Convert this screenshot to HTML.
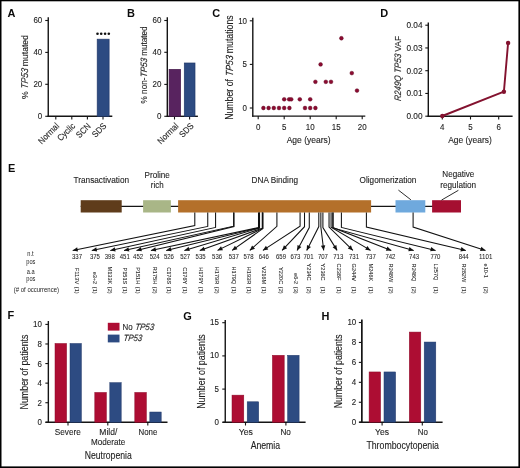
<!DOCTYPE html>
<html><head><meta charset="utf-8"><title>Figure</title>
<style>
html,body{margin:0;padding:0;background:#fff;}
body{width:520px;height:468px;overflow:hidden;}
svg{display:block;will-change:transform;font-family:"Liberation Sans",sans-serif;}
</style></head>
<body>
<svg width="520" height="468" viewBox="0 0 520 468">
<rect x="0" y="0" width="520" height="468" fill="#fff"/>
<text x="7.60" y="16.90" font-size="11.8" text-anchor="start" fill="#0c0c0c" font-weight="bold" textLength="7.93" lengthAdjust="spacingAndGlyphs">A</text>
<line x1="48.25" y1="17.30" x2="48.25" y2="117.00" stroke="#151515" stroke-width="1.4" />
<line x1="45.25" y1="20.50" x2="48.25" y2="20.50" stroke="#151515" stroke-width="1.1" />
<text x="42.30" y="23.05" font-size="9.0" text-anchor="end" fill="#1e1e1e" stroke="#1e1e1e" stroke-width="0.12" textLength="8.86" lengthAdjust="spacingAndGlyphs">60</text>
<line x1="45.25" y1="52.40" x2="48.25" y2="52.40" stroke="#151515" stroke-width="1.1" />
<text x="42.30" y="54.95" font-size="9.0" text-anchor="end" fill="#1e1e1e" stroke="#1e1e1e" stroke-width="0.12" textLength="8.86" lengthAdjust="spacingAndGlyphs">40</text>
<line x1="45.25" y1="84.30" x2="48.25" y2="84.30" stroke="#151515" stroke-width="1.1" />
<text x="42.30" y="86.85" font-size="9.0" text-anchor="end" fill="#1e1e1e" stroke="#1e1e1e" stroke-width="0.12" textLength="8.86" lengthAdjust="spacingAndGlyphs">20</text>
<line x1="45.25" y1="116.30" x2="48.25" y2="116.30" stroke="#151515" stroke-width="1.1" />
<text x="42.30" y="118.85" font-size="9.0" text-anchor="end" fill="#1e1e1e" stroke="#1e1e1e" stroke-width="0.12" textLength="4.43" lengthAdjust="spacingAndGlyphs">0</text>
<line x1="47.60" y1="116.30" x2="112.30" y2="116.30" stroke="#151515" stroke-width="1.4" />
<line x1="55.80" y1="116.30" x2="55.80" y2="119.50" stroke="#151515" stroke-width="1.1" />
<line x1="71.80" y1="116.30" x2="71.80" y2="119.50" stroke="#151515" stroke-width="1.1" />
<line x1="87.40" y1="116.30" x2="87.40" y2="119.50" stroke="#151515" stroke-width="1.1" />
<line x1="103.00" y1="116.30" x2="103.00" y2="119.50" stroke="#151515" stroke-width="1.1" />
<rect x="97.20" y="39.20" width="11.90" height="77.10" fill="#2d4b82" stroke="#22396a" stroke-width="0.7"/>
<circle cx="97.5" cy="33.8" r="1.3" fill="#111"/>
<circle cx="101.2" cy="33.8" r="1.3" fill="#111"/>
<circle cx="105.1" cy="33.8" r="1.3" fill="#111"/>
<circle cx="108.8" cy="33.8" r="1.3" fill="#111"/>
<text transform="translate(59.70,126.60) rotate(-45)" font-size="8.8" text-anchor="end" fill="#1e1e1e" stroke="#1e1e1e" stroke-width="0.12" textLength="25.52" lengthAdjust="spacingAndGlyphs">Normal</text>
<text transform="translate(75.70,126.60) rotate(-45)" font-size="8.8" text-anchor="end" fill="#1e1e1e" stroke="#1e1e1e" stroke-width="0.12" textLength="21.12" lengthAdjust="spacingAndGlyphs">Cyclic</text>
<text transform="translate(91.30,126.60) rotate(-45)" font-size="8.8" text-anchor="end" fill="#1e1e1e" stroke="#1e1e1e" stroke-width="0.12" textLength="16.72" lengthAdjust="spacingAndGlyphs">SCN</text>
<text transform="translate(106.90,126.60) rotate(-45)" font-size="8.8" text-anchor="end" fill="#1e1e1e" stroke="#1e1e1e" stroke-width="0.12" textLength="16.28" lengthAdjust="spacingAndGlyphs">SDS</text>
<text transform="translate(28.20,67.10) rotate(-90) translate(-32.00,0)" font-size="9.8" fill="#1e1e1e" stroke="#1e1e1e" stroke-width="0.12" textLength="7.64" lengthAdjust="spacingAndGlyphs">%</text>
<text transform="translate(28.20,67.10) rotate(-90) translate(-21.97,0) skewX(-7)" font-size="9.8" fill="#1e1e1e" font-style="italic" stroke="#1e1e1e" stroke-width="0.12" textLength="20.54" lengthAdjust="spacingAndGlyphs">TP53</text>
<text transform="translate(28.20,67.10) rotate(-90) translate(0.95,0)" font-size="9.8" fill="#1e1e1e" stroke="#1e1e1e" stroke-width="0.12" textLength="31.05" lengthAdjust="spacingAndGlyphs">mutated</text>
<text x="127.00" y="16.90" font-size="11.8" text-anchor="start" fill="#0c0c0c" font-weight="bold" textLength="7.93" lengthAdjust="spacingAndGlyphs">B</text>
<line x1="167.30" y1="17.30" x2="167.30" y2="117.00" stroke="#151515" stroke-width="1.4" />
<line x1="164.30" y1="20.50" x2="167.30" y2="20.50" stroke="#151515" stroke-width="1.1" />
<text x="161.40" y="23.05" font-size="9.0" text-anchor="end" fill="#1e1e1e" stroke="#1e1e1e" stroke-width="0.12" textLength="8.86" lengthAdjust="spacingAndGlyphs">60</text>
<line x1="164.30" y1="52.30" x2="167.30" y2="52.30" stroke="#151515" stroke-width="1.1" />
<text x="161.40" y="54.85" font-size="9.0" text-anchor="end" fill="#1e1e1e" stroke="#1e1e1e" stroke-width="0.12" textLength="8.86" lengthAdjust="spacingAndGlyphs">40</text>
<line x1="164.30" y1="84.40" x2="167.30" y2="84.40" stroke="#151515" stroke-width="1.1" />
<text x="161.40" y="86.95" font-size="9.0" text-anchor="end" fill="#1e1e1e" stroke="#1e1e1e" stroke-width="0.12" textLength="8.86" lengthAdjust="spacingAndGlyphs">20</text>
<line x1="164.30" y1="116.30" x2="167.30" y2="116.30" stroke="#151515" stroke-width="1.1" />
<text x="161.40" y="118.85" font-size="9.0" text-anchor="end" fill="#1e1e1e" stroke="#1e1e1e" stroke-width="0.12" textLength="4.43" lengthAdjust="spacingAndGlyphs">0</text>
<line x1="166.70" y1="116.30" x2="197.90" y2="116.30" stroke="#151515" stroke-width="1.4" />
<line x1="174.50" y1="116.30" x2="174.50" y2="119.50" stroke="#151515" stroke-width="1.1" />
<line x1="189.60" y1="116.30" x2="189.60" y2="119.50" stroke="#151515" stroke-width="1.1" />
<rect x="169.10" y="69.40" width="11.50" height="46.90" fill="#58235f" stroke="#43184a" stroke-width="0.7"/>
<rect x="184.30" y="63.00" width="10.70" height="53.30" fill="#2d4b82" stroke="#22396a" stroke-width="0.7"/>
<text transform="translate(179.10,126.60) rotate(-45)" font-size="8.8" text-anchor="end" fill="#1e1e1e" stroke="#1e1e1e" stroke-width="0.12" textLength="25.52" lengthAdjust="spacingAndGlyphs">Normal</text>
<text transform="translate(194.20,126.60) rotate(-45)" font-size="8.8" text-anchor="end" fill="#1e1e1e" stroke="#1e1e1e" stroke-width="0.12" textLength="16.28" lengthAdjust="spacingAndGlyphs">SDS</text>
<text transform="translate(146.50,64.90) rotate(-90) translate(-38.50,0)" font-size="9.2" fill="#1e1e1e" stroke="#1e1e1e" stroke-width="0.12" textLength="25.82" lengthAdjust="spacingAndGlyphs">%&#160;non-</text>
<text transform="translate(146.50,64.90) rotate(-90) translate(-12.68,0) skewX(-7)" font-size="9.2" fill="#1e1e1e" font-style="italic" stroke="#1e1e1e" stroke-width="0.12" textLength="19.48" lengthAdjust="spacingAndGlyphs">TP53</text>
<text transform="translate(146.50,64.90) rotate(-90) translate(9.06,0)" font-size="9.2" fill="#1e1e1e" stroke="#1e1e1e" stroke-width="0.12" textLength="29.44" lengthAdjust="spacingAndGlyphs">mutated</text>
<text x="212.30" y="17.10" font-size="11.8" text-anchor="start" fill="#0c0c0c" font-weight="bold" textLength="7.93" lengthAdjust="spacingAndGlyphs">C</text>
<line x1="252.80" y1="17.70" x2="252.80" y2="116.80" stroke="#151515" stroke-width="1.4" />
<line x1="249.80" y1="20.80" x2="252.80" y2="20.80" stroke="#151515" stroke-width="1.1" />
<text x="247.00" y="23.80" font-size="9.0" text-anchor="end" fill="#1e1e1e" stroke="#1e1e1e" stroke-width="0.12" textLength="8.86" lengthAdjust="spacingAndGlyphs">10</text>
<line x1="249.80" y1="64.40" x2="252.80" y2="64.40" stroke="#151515" stroke-width="1.1" />
<text x="247.00" y="67.40" font-size="9.0" text-anchor="end" fill="#1e1e1e" stroke="#1e1e1e" stroke-width="0.12" textLength="4.43" lengthAdjust="spacingAndGlyphs">5</text>
<line x1="249.80" y1="108.00" x2="252.80" y2="108.00" stroke="#151515" stroke-width="1.1" />
<text x="247.00" y="111.00" font-size="9.0" text-anchor="end" fill="#1e1e1e" stroke="#1e1e1e" stroke-width="0.12" textLength="4.43" lengthAdjust="spacingAndGlyphs">0</text>
<line x1="252.10" y1="116.10" x2="365.30" y2="116.10" stroke="#151515" stroke-width="1.4" />
<line x1="258.20" y1="116.10" x2="258.20" y2="119.30" stroke="#151515" stroke-width="1.1" />
<line x1="284.20" y1="116.10" x2="284.20" y2="119.30" stroke="#151515" stroke-width="1.1" />
<line x1="310.20" y1="116.10" x2="310.20" y2="119.30" stroke="#151515" stroke-width="1.1" />
<line x1="336.20" y1="116.10" x2="336.20" y2="119.30" stroke="#151515" stroke-width="1.1" />
<line x1="362.20" y1="116.10" x2="362.20" y2="119.30" stroke="#151515" stroke-width="1.1" />
<text x="258.20" y="129.80" font-size="9.0" text-anchor="middle" fill="#1e1e1e" stroke="#1e1e1e" stroke-width="0.12" textLength="4.43" lengthAdjust="spacingAndGlyphs">0</text>
<text x="284.20" y="129.80" font-size="9.0" text-anchor="middle" fill="#1e1e1e" stroke="#1e1e1e" stroke-width="0.12" textLength="4.43" lengthAdjust="spacingAndGlyphs">5</text>
<text x="310.20" y="129.80" font-size="9.0" text-anchor="middle" fill="#1e1e1e" stroke="#1e1e1e" stroke-width="0.12" textLength="8.86" lengthAdjust="spacingAndGlyphs">10</text>
<text x="336.20" y="129.80" font-size="9.0" text-anchor="middle" fill="#1e1e1e" stroke="#1e1e1e" stroke-width="0.12" textLength="8.86" lengthAdjust="spacingAndGlyphs">15</text>
<text x="362.20" y="129.80" font-size="9.0" text-anchor="middle" fill="#1e1e1e" stroke="#1e1e1e" stroke-width="0.12" textLength="8.86" lengthAdjust="spacingAndGlyphs">20</text>
<text x="308.70" y="143.10" font-size="9.8" text-anchor="middle" fill="#1e1e1e" stroke="#1e1e1e" stroke-width="0.12" textLength="44.00" lengthAdjust="spacingAndGlyphs">Age (years)</text>
<text transform="translate(233.00,67.60) rotate(-90) translate(-52.25,0)" font-size="10.3" fill="#1e1e1e" stroke="#1e1e1e" stroke-width="0.12" textLength="40.83" lengthAdjust="spacingAndGlyphs">Number&#160;of</text>
<text transform="translate(233.00,67.60) rotate(-90) translate(-8.99,0) skewX(-7)" font-size="10.3" fill="#1e1e1e" font-style="italic" stroke="#1e1e1e" stroke-width="0.12" textLength="20.90" lengthAdjust="spacingAndGlyphs">TP53</text>
<text transform="translate(233.00,67.60) rotate(-90) translate(14.34,0)" font-size="10.3" fill="#1e1e1e" stroke="#1e1e1e" stroke-width="0.12" textLength="37.91" lengthAdjust="spacingAndGlyphs">mutations</text>
<circle cx="263.40" cy="108.00" r="1.9" fill="#8c0b31" stroke="#5e0822" stroke-width="0.45"/>
<circle cx="268.60" cy="108.00" r="1.9" fill="#8c0b31" stroke="#5e0822" stroke-width="0.45"/>
<circle cx="273.80" cy="108.00" r="1.9" fill="#8c0b31" stroke="#5e0822" stroke-width="0.45"/>
<circle cx="279.00" cy="108.00" r="1.9" fill="#8c0b31" stroke="#5e0822" stroke-width="0.45"/>
<circle cx="284.20" cy="108.00" r="1.9" fill="#8c0b31" stroke="#5e0822" stroke-width="0.45"/>
<circle cx="289.40" cy="108.00" r="1.9" fill="#8c0b31" stroke="#5e0822" stroke-width="0.45"/>
<circle cx="305.00" cy="108.00" r="1.9" fill="#8c0b31" stroke="#5e0822" stroke-width="0.45"/>
<circle cx="310.20" cy="108.00" r="1.9" fill="#8c0b31" stroke="#5e0822" stroke-width="0.45"/>
<circle cx="315.40" cy="108.00" r="1.9" fill="#8c0b31" stroke="#5e0822" stroke-width="0.45"/>
<circle cx="284.20" cy="99.28" r="1.9" fill="#8c0b31" stroke="#5e0822" stroke-width="0.45"/>
<circle cx="289.14" cy="99.28" r="1.9" fill="#8c0b31" stroke="#5e0822" stroke-width="0.45"/>
<circle cx="291.22" cy="99.28" r="1.9" fill="#8c0b31" stroke="#5e0822" stroke-width="0.45"/>
<circle cx="299.80" cy="99.28" r="1.9" fill="#8c0b31" stroke="#5e0822" stroke-width="0.45"/>
<circle cx="310.20" cy="99.28" r="1.9" fill="#8c0b31" stroke="#5e0822" stroke-width="0.45"/>
<circle cx="315.40" cy="81.84" r="1.9" fill="#8c0b31" stroke="#5e0822" stroke-width="0.45"/>
<circle cx="325.80" cy="81.84" r="1.9" fill="#8c0b31" stroke="#5e0822" stroke-width="0.45"/>
<circle cx="331.00" cy="81.84" r="1.9" fill="#8c0b31" stroke="#5e0822" stroke-width="0.45"/>
<circle cx="320.60" cy="64.40" r="1.9" fill="#8c0b31" stroke="#5e0822" stroke-width="0.45"/>
<circle cx="341.40" cy="38.24" r="1.9" fill="#8c0b31" stroke="#5e0822" stroke-width="0.45"/>
<circle cx="351.80" cy="73.12" r="1.9" fill="#8c0b31" stroke="#5e0822" stroke-width="0.45"/>
<circle cx="357.00" cy="90.56" r="1.9" fill="#8c0b31" stroke="#5e0822" stroke-width="0.45"/>
<text x="380.20" y="17.10" font-size="11.8" text-anchor="start" fill="#0c0c0c" font-weight="bold" textLength="7.93" lengthAdjust="spacingAndGlyphs">D</text>
<line x1="428.30" y1="22.40" x2="428.30" y2="117.00" stroke="#151515" stroke-width="1.4" />
<line x1="425.30" y1="25.20" x2="428.30" y2="25.20" stroke="#151515" stroke-width="1.1" />
<text x="422.60" y="28.10" font-size="9.0" text-anchor="end" fill="#1e1e1e" stroke="#1e1e1e" stroke-width="0.12" textLength="16.12" lengthAdjust="spacingAndGlyphs">0.04</text>
<line x1="425.30" y1="47.95" x2="428.30" y2="47.95" stroke="#151515" stroke-width="1.1" />
<text x="422.60" y="50.85" font-size="9.0" text-anchor="end" fill="#1e1e1e" stroke="#1e1e1e" stroke-width="0.12" textLength="16.12" lengthAdjust="spacingAndGlyphs">0.03</text>
<line x1="425.30" y1="70.70" x2="428.30" y2="70.70" stroke="#151515" stroke-width="1.1" />
<text x="422.60" y="73.60" font-size="9.0" text-anchor="end" fill="#1e1e1e" stroke="#1e1e1e" stroke-width="0.12" textLength="16.12" lengthAdjust="spacingAndGlyphs">0.02</text>
<line x1="425.30" y1="93.45" x2="428.30" y2="93.45" stroke="#151515" stroke-width="1.1" />
<text x="422.60" y="96.35" font-size="9.0" text-anchor="end" fill="#1e1e1e" stroke="#1e1e1e" stroke-width="0.12" textLength="16.12" lengthAdjust="spacingAndGlyphs">0.01</text>
<line x1="425.30" y1="116.20" x2="428.30" y2="116.20" stroke="#151515" stroke-width="1.1" />
<text x="422.60" y="119.10" font-size="9.0" text-anchor="end" fill="#1e1e1e" stroke="#1e1e1e" stroke-width="0.12" textLength="16.12" lengthAdjust="spacingAndGlyphs">0.00</text>
<line x1="427.60" y1="116.30" x2="512.60" y2="116.30" stroke="#151515" stroke-width="1.4" />
<line x1="442.30" y1="116.30" x2="442.30" y2="119.50" stroke="#151515" stroke-width="1.1" />
<line x1="470.50" y1="116.30" x2="470.50" y2="119.50" stroke="#151515" stroke-width="1.1" />
<line x1="498.70" y1="116.30" x2="498.70" y2="119.50" stroke="#151515" stroke-width="1.1" />
<text x="442.30" y="129.60" font-size="9.0" text-anchor="middle" fill="#1e1e1e" stroke="#1e1e1e" stroke-width="0.12" textLength="4.43" lengthAdjust="spacingAndGlyphs">4</text>
<text x="470.50" y="129.60" font-size="9.0" text-anchor="middle" fill="#1e1e1e" stroke="#1e1e1e" stroke-width="0.12" textLength="4.43" lengthAdjust="spacingAndGlyphs">5</text>
<text x="498.70" y="129.60" font-size="9.0" text-anchor="middle" fill="#1e1e1e" stroke="#1e1e1e" stroke-width="0.12" textLength="4.43" lengthAdjust="spacingAndGlyphs">6</text>
<text x="470.00" y="143.10" font-size="9.8" text-anchor="middle" fill="#1e1e1e" stroke="#1e1e1e" stroke-width="0.12" textLength="43.60" lengthAdjust="spacingAndGlyphs">Age (years)</text>
<text transform="translate(400.80,68.60) rotate(-90) translate(-32.75,0) skewX(-7)" font-size="9.4" fill="#1e1e1e" font-style="italic" stroke="#1e1e1e" stroke-width="0.12" textLength="47.44" lengthAdjust="spacingAndGlyphs">R249Q&#160;TP53</text>
<text transform="translate(400.80,68.60) rotate(-90) translate(16.94,0)" font-size="9.4" fill="#1e1e1e" stroke="#1e1e1e" stroke-width="0.12" textLength="15.81" lengthAdjust="spacingAndGlyphs">VAF</text>
<polyline points="442.3,116.0 503.9,91.7 508.1,42.9" fill="none" stroke="#83122f" stroke-width="1.9" stroke-linejoin="round"/>
<circle cx="442.3" cy="116.0" r="2.2" fill="#83122f"/>
<circle cx="503.9" cy="91.7" r="2.2" fill="#83122f"/>
<circle cx="508.1" cy="42.9" r="2.2" fill="#83122f"/>
<text x="8.00" y="172.00" font-size="11.8" text-anchor="start" fill="#0c0c0c" font-weight="bold" textLength="7.32" lengthAdjust="spacingAndGlyphs">E</text>
<line x1="80.70" y1="206.40" x2="461.00" y2="206.40" stroke="#151515" stroke-width="1.1" />
<rect x="80.70" y="200.20" width="41.00" height="12.30" fill="#5f3c1b"/>
<rect x="143.10" y="200.20" width="27.80" height="12.30" fill="#a9b687"/>
<rect x="178.10" y="200.20" width="193.00" height="12.30" fill="#b4702a"/>
<rect x="395.50" y="200.20" width="29.80" height="12.30" fill="#6fa9dd"/>
<rect x="432.10" y="200.20" width="28.90" height="12.30" fill="#a50f31"/>
<text x="101.30" y="183.10" font-size="9.2" text-anchor="middle" fill="#1e1e1e" stroke="#1e1e1e" stroke-width="0.12" textLength="55.60" lengthAdjust="spacingAndGlyphs">Transactivation</text>
<text x="157.20" y="178.40" font-size="9.2" text-anchor="middle" fill="#1e1e1e" stroke="#1e1e1e" stroke-width="0.12" textLength="25.20" lengthAdjust="spacingAndGlyphs">Proline</text>
<text x="157.20" y="188.00" font-size="9.2" text-anchor="middle" fill="#1e1e1e" stroke="#1e1e1e" stroke-width="0.12" textLength="12.80" lengthAdjust="spacingAndGlyphs">rich</text>
<text x="274.80" y="183.00" font-size="9.2" text-anchor="middle" fill="#1e1e1e" stroke="#1e1e1e" stroke-width="0.12" textLength="46.50" lengthAdjust="spacingAndGlyphs">DNA Binding</text>
<text x="388.00" y="182.60" font-size="9.2" text-anchor="middle" fill="#1e1e1e" stroke="#1e1e1e" stroke-width="0.12" textLength="56.80" lengthAdjust="spacingAndGlyphs">Oligomerization</text>
<text x="458.30" y="177.00" font-size="9.2" text-anchor="middle" fill="#1e1e1e" stroke="#1e1e1e" stroke-width="0.12" textLength="32.00" lengthAdjust="spacingAndGlyphs">Negative</text>
<text x="458.20" y="187.60" font-size="9.2" text-anchor="middle" fill="#1e1e1e" stroke="#1e1e1e" stroke-width="0.12" textLength="36.00" lengthAdjust="spacingAndGlyphs">regulation</text>
<line x1="398.40" y1="190.10" x2="410.90" y2="199.80" stroke="#151515" stroke-width="0.9" />
<line x1="458.40" y1="190.30" x2="441.50" y2="200.10" stroke="#151515" stroke-width="0.9" />
<polyline points="194.80,212.5 194.80,225.60 72.70,250.4" fill="none" stroke="#111" stroke-width="1.05"/>
<polygon points="72.70,250.40 77.16,247.25 78.04,251.56" fill="#111"/>
<text x="77.00" y="258.70" font-size="6.9" text-anchor="middle" fill="#1e1e1e" stroke="#1e1e1e" stroke-width="0.05" textLength="10.02" lengthAdjust="spacingAndGlyphs">337</text>
<polyline points="207.75,212.5 207.75,226.40 91.80,250.4" fill="none" stroke="#111" stroke-width="1.05"/>
<polygon points="91.80,250.40 96.25,247.23 97.14,251.54" fill="#111"/>
<text x="94.90" y="258.70" font-size="6.9" text-anchor="middle" fill="#1e1e1e" stroke="#1e1e1e" stroke-width="0.05" textLength="10.02" lengthAdjust="spacingAndGlyphs">375</text>
<polyline points="215.58,212.5 215.58,227.40 110.30,250.4" fill="none" stroke="#111" stroke-width="1.05"/>
<polygon points="110.30,250.40 114.72,247.18 115.65,251.48" fill="#111"/>
<text x="109.80" y="258.70" font-size="6.9" text-anchor="middle" fill="#1e1e1e" stroke="#1e1e1e" stroke-width="0.05" textLength="10.02" lengthAdjust="spacingAndGlyphs">398</text>
<polyline points="233.64,212.5 233.64,226.20 124.00,250.4" fill="none" stroke="#111" stroke-width="1.05"/>
<polygon points="124.00,250.40 128.41,247.17 129.36,251.47" fill="#111"/>
<text x="124.80" y="258.70" font-size="6.9" text-anchor="middle" fill="#1e1e1e" stroke="#1e1e1e" stroke-width="0.05" textLength="10.02" lengthAdjust="spacingAndGlyphs">451</text>
<polyline points="233.98,212.5 233.98,226.60 136.50,250.4" fill="none" stroke="#111" stroke-width="1.05"/>
<polygon points="136.50,250.40 140.84,247.08 141.88,251.35" fill="#111"/>
<text x="138.10" y="258.70" font-size="6.9" text-anchor="middle" fill="#1e1e1e" stroke="#1e1e1e" stroke-width="0.05" textLength="10.02" lengthAdjust="spacingAndGlyphs">452</text>
<polyline points="258.51,212.5 258.51,227.60 150.90,250.4" fill="none" stroke="#111" stroke-width="1.05"/>
<polygon points="150.90,250.40 155.34,247.21 156.25,251.52" fill="#111"/>
<text x="154.70" y="258.70" font-size="6.9" text-anchor="middle" fill="#1e1e1e" stroke="#1e1e1e" stroke-width="0.05" textLength="10.02" lengthAdjust="spacingAndGlyphs">524</text>
<polyline points="259.19,212.5 259.19,227.80 166.20,250.4" fill="none" stroke="#111" stroke-width="1.05"/>
<polygon points="166.20,250.40 170.54,247.08 171.58,251.36" fill="#111"/>
<text x="168.90" y="258.70" font-size="6.9" text-anchor="middle" fill="#1e1e1e" stroke="#1e1e1e" stroke-width="0.05" textLength="10.02" lengthAdjust="spacingAndGlyphs">526</text>
<polyline points="259.53,212.5 259.53,228.00 184.40,250.4" fill="none" stroke="#111" stroke-width="1.05"/>
<polygon points="184.40,250.40 188.56,246.86 189.82,251.08" fill="#111"/>
<text x="185.20" y="258.70" font-size="6.9" text-anchor="middle" fill="#1e1e1e" stroke="#1e1e1e" stroke-width="0.05" textLength="10.02" lengthAdjust="spacingAndGlyphs">527</text>
<polyline points="262.26,212.5 262.26,228.20 199.80,250.4" fill="none" stroke="#111" stroke-width="1.05"/>
<polygon points="199.80,250.40 203.77,246.65 205.25,250.80" fill="#111"/>
<text x="200.60" y="258.70" font-size="6.9" text-anchor="middle" fill="#1e1e1e" stroke="#1e1e1e" stroke-width="0.05" textLength="10.02" lengthAdjust="spacingAndGlyphs">535</text>
<polyline points="262.60,212.5 262.60,228.40 217.50,250.4" fill="none" stroke="#111" stroke-width="1.05"/>
<polygon points="217.50,250.40 221.03,246.23 222.96,250.19" fill="#111"/>
<text x="217.10" y="258.70" font-size="6.9" text-anchor="middle" fill="#1e1e1e" stroke="#1e1e1e" stroke-width="0.05" textLength="10.02" lengthAdjust="spacingAndGlyphs">536</text>
<polyline points="262.94,212.5 262.94,228.60 232.10,250.4" fill="none" stroke="#111" stroke-width="1.05"/>
<polygon points="232.10,250.40 234.91,245.72 237.45,249.31" fill="#111"/>
<text x="233.80" y="258.70" font-size="6.9" text-anchor="middle" fill="#1e1e1e" stroke="#1e1e1e" stroke-width="0.05" textLength="10.02" lengthAdjust="spacingAndGlyphs">537</text>
<polyline points="276.91,212.5 276.91,226.30 249.80,250.4" fill="none" stroke="#111" stroke-width="1.05"/>
<polygon points="249.80,250.40 252.08,245.43 255.00,248.72" fill="#111"/>
<text x="248.50" y="258.70" font-size="6.9" text-anchor="middle" fill="#1e1e1e" stroke="#1e1e1e" stroke-width="0.05" textLength="10.02" lengthAdjust="spacingAndGlyphs">578</text>
<polyline points="300.08,212.5 300.08,226.20 262.90,250.4" fill="none" stroke="#111" stroke-width="1.05"/>
<polygon points="262.90,250.40 265.89,245.83 268.29,249.52" fill="#111"/>
<text x="263.80" y="258.70" font-size="6.9" text-anchor="middle" fill="#1e1e1e" stroke="#1e1e1e" stroke-width="0.05" textLength="10.02" lengthAdjust="spacingAndGlyphs">646</text>
<polyline points="304.51,212.5 304.51,226.70 282.10,250.4" fill="none" stroke="#111" stroke-width="1.05"/>
<polygon points="282.10,250.40 283.94,245.26 287.13,248.28" fill="#111"/>
<text x="281.00" y="258.70" font-size="6.9" text-anchor="middle" fill="#1e1e1e" stroke="#1e1e1e" stroke-width="0.05" textLength="10.02" lengthAdjust="spacingAndGlyphs">659</text>
<polyline points="309.28,212.5 309.28,227.50 297.10,250.4" fill="none" stroke="#111" stroke-width="1.05"/>
<polygon points="297.10,250.40 297.50,244.95 301.39,247.02" fill="#111"/>
<text x="295.40" y="258.70" font-size="6.9" text-anchor="middle" fill="#1e1e1e" stroke="#1e1e1e" stroke-width="0.05" textLength="10.02" lengthAdjust="spacingAndGlyphs">673</text>
<polyline points="318.81,212.5 318.81,226.50 306.70,250.4" fill="none" stroke="#111" stroke-width="1.05"/>
<polygon points="306.70,250.40 307.00,244.95 310.92,246.93" fill="#111"/>
<text x="308.50" y="258.70" font-size="6.9" text-anchor="middle" fill="#1e1e1e" stroke="#1e1e1e" stroke-width="0.05" textLength="10.02" lengthAdjust="spacingAndGlyphs">701</text>
<polyline points="320.86,212.5 320.86,227.00 323.70,250.4" fill="none" stroke="#111" stroke-width="1.05"/>
<polygon points="323.70,250.40 320.91,245.70 325.28,245.17" fill="#111"/>
<text x="322.90" y="258.70" font-size="6.9" text-anchor="middle" fill="#1e1e1e" stroke="#1e1e1e" stroke-width="0.05" textLength="10.02" lengthAdjust="spacingAndGlyphs">707</text>
<polyline points="322.90,212.5 322.90,227.50 337.10,250.4" fill="none" stroke="#111" stroke-width="1.05"/>
<polygon points="337.10,250.40 332.60,247.31 336.34,244.99" fill="#111"/>
<text x="338.30" y="258.70" font-size="6.9" text-anchor="middle" fill="#1e1e1e" stroke="#1e1e1e" stroke-width="0.05" textLength="10.02" lengthAdjust="spacingAndGlyphs">713</text>
<polyline points="329.04,212.5 329.04,227.00 352.90,250.4" fill="none" stroke="#111" stroke-width="1.05"/>
<polygon points="352.90,250.40 347.79,248.47 350.87,245.33" fill="#111"/>
<text x="354.00" y="258.70" font-size="6.9" text-anchor="middle" fill="#1e1e1e" stroke="#1e1e1e" stroke-width="0.05" textLength="10.02" lengthAdjust="spacingAndGlyphs">731</text>
<polyline points="331.08,212.5 331.08,227.30 370.60,250.4" fill="none" stroke="#111" stroke-width="1.05"/>
<polygon points="370.60,250.40 365.17,249.78 367.39,245.98" fill="#111"/>
<text x="370.80" y="258.70" font-size="6.9" text-anchor="middle" fill="#1e1e1e" stroke="#1e1e1e" stroke-width="0.05" textLength="10.02" lengthAdjust="spacingAndGlyphs">737</text>
<polyline points="332.78,212.5 332.78,227.60 391.30,250.4" fill="none" stroke="#111" stroke-width="1.05"/>
<polygon points="391.30,250.40 385.84,250.63 387.44,246.53" fill="#111"/>
<text x="390.40" y="258.70" font-size="6.9" text-anchor="middle" fill="#1e1e1e" stroke="#1e1e1e" stroke-width="0.05" textLength="10.02" lengthAdjust="spacingAndGlyphs">742</text>
<polyline points="333.12,212.5 333.12,227.90 413.70,250.4" fill="none" stroke="#111" stroke-width="1.05"/>
<polygon points="413.70,250.40 408.29,251.17 409.48,246.94" fill="#111"/>
<text x="414.10" y="258.70" font-size="6.9" text-anchor="middle" fill="#1e1e1e" stroke="#1e1e1e" stroke-width="0.05" textLength="10.02" lengthAdjust="spacingAndGlyphs">743</text>
<polyline points="341.40,212.5 341.40,227.40 435.60,250.4" fill="none" stroke="#111" stroke-width="1.05"/>
<polygon points="435.60,250.40 430.22,251.35 431.26,247.08" fill="#111"/>
<text x="435.40" y="258.70" font-size="6.9" text-anchor="middle" fill="#1e1e1e" stroke="#1e1e1e" stroke-width="0.05" textLength="10.02" lengthAdjust="spacingAndGlyphs">770</text>
<polyline points="366.40,212.5 366.40,227.00 465.80,250.4" fill="none" stroke="#111" stroke-width="1.05"/>
<polygon points="465.80,250.40 460.43,251.40 461.44,247.11" fill="#111"/>
<text x="463.70" y="258.70" font-size="6.9" text-anchor="middle" fill="#1e1e1e" stroke="#1e1e1e" stroke-width="0.05" textLength="10.02" lengthAdjust="spacingAndGlyphs">844</text>
<polyline points="413.10,212.5 413.10,227.00 485.50,250.4" fill="none" stroke="#111" stroke-width="1.05"/>
<polygon points="485.50,250.40 480.07,250.96 481.42,246.77" fill="#111"/>
<text x="485.70" y="258.70" font-size="6.9" text-anchor="middle" fill="#1e1e1e" stroke="#1e1e1e" stroke-width="0.05" textLength="13.35" lengthAdjust="spacingAndGlyphs">1101</text>
<text transform="translate(75.20,284.20) rotate(90)" font-size="6.0" text-anchor="end" fill="#2a2a2a" stroke="#2a2a2a" stroke-width="0.08" textLength="16.44" lengthAdjust="spacingAndGlyphs">F113V</text>
<text transform="translate(75.20,293.60) rotate(90)" font-size="6.0" text-anchor="end" fill="#2a2a2a" stroke="#2a2a2a" stroke-width="0.08" textLength="6.82" lengthAdjust="spacingAndGlyphs">(1)</text>
<text transform="translate(93.10,284.20) rotate(90)" font-size="6.0" text-anchor="end" fill="#2a2a2a" stroke="#2a2a2a" stroke-width="0.08" textLength="12.57" lengthAdjust="spacingAndGlyphs">e3+2</text>
<text transform="translate(93.10,293.60) rotate(90)" font-size="6.0" text-anchor="end" fill="#2a2a2a" stroke="#2a2a2a" stroke-width="0.08" textLength="6.82" lengthAdjust="spacingAndGlyphs">(1)</text>
<text transform="translate(108.00,284.20) rotate(90)" font-size="6.0" text-anchor="end" fill="#2a2a2a" stroke="#2a2a2a" stroke-width="0.08" textLength="17.68" lengthAdjust="spacingAndGlyphs">M133K</text>
<text transform="translate(108.00,293.60) rotate(90)" font-size="6.0" text-anchor="end" fill="#2a2a2a" stroke="#2a2a2a" stroke-width="0.08" textLength="6.82" lengthAdjust="spacingAndGlyphs">(2)</text>
<text transform="translate(123.00,284.20) rotate(90)" font-size="6.0" text-anchor="end" fill="#2a2a2a" stroke="#2a2a2a" stroke-width="0.08" textLength="16.75" lengthAdjust="spacingAndGlyphs">P151S</text>
<text transform="translate(123.00,293.60) rotate(90)" font-size="6.0" text-anchor="end" fill="#2a2a2a" stroke="#2a2a2a" stroke-width="0.08" textLength="6.82" lengthAdjust="spacingAndGlyphs">(1)</text>
<text transform="translate(136.30,284.20) rotate(90)" font-size="6.0" text-anchor="end" fill="#2a2a2a" stroke="#2a2a2a" stroke-width="0.08" textLength="17.06" lengthAdjust="spacingAndGlyphs">P151H</text>
<text transform="translate(136.30,293.60) rotate(90)" font-size="6.0" text-anchor="end" fill="#2a2a2a" stroke="#2a2a2a" stroke-width="0.08" textLength="6.82" lengthAdjust="spacingAndGlyphs">(1)</text>
<text transform="translate(152.90,284.20) rotate(90)" font-size="6.0" text-anchor="end" fill="#2a2a2a" stroke="#2a2a2a" stroke-width="0.08" textLength="17.37" lengthAdjust="spacingAndGlyphs">R175H</text>
<text transform="translate(152.90,293.60) rotate(90)" font-size="6.0" text-anchor="end" fill="#2a2a2a" stroke="#2a2a2a" stroke-width="0.08" textLength="6.82" lengthAdjust="spacingAndGlyphs">(2)</text>
<text transform="translate(167.10,284.20) rotate(90)" font-size="6.0" text-anchor="end" fill="#2a2a2a" stroke="#2a2a2a" stroke-width="0.08" textLength="17.06" lengthAdjust="spacingAndGlyphs">C176S</text>
<text transform="translate(167.10,293.60) rotate(90)" font-size="6.0" text-anchor="end" fill="#2a2a2a" stroke="#2a2a2a" stroke-width="0.08" textLength="6.82" lengthAdjust="spacingAndGlyphs">(1)</text>
<text transform="translate(183.40,284.20) rotate(90)" font-size="6.0" text-anchor="end" fill="#2a2a2a" stroke="#2a2a2a" stroke-width="0.08" textLength="17.06" lengthAdjust="spacingAndGlyphs">C176Y</text>
<text transform="translate(183.40,293.60) rotate(90)" font-size="6.0" text-anchor="end" fill="#2a2a2a" stroke="#2a2a2a" stroke-width="0.08" textLength="6.82" lengthAdjust="spacingAndGlyphs">(1)</text>
<text transform="translate(198.80,284.20) rotate(90)" font-size="6.0" text-anchor="end" fill="#2a2a2a" stroke="#2a2a2a" stroke-width="0.08" textLength="17.06" lengthAdjust="spacingAndGlyphs">H179Y</text>
<text transform="translate(198.80,293.60) rotate(90)" font-size="6.0" text-anchor="end" fill="#2a2a2a" stroke="#2a2a2a" stroke-width="0.08" textLength="6.82" lengthAdjust="spacingAndGlyphs">(1)</text>
<text transform="translate(215.30,284.20) rotate(90)" font-size="6.0" text-anchor="end" fill="#2a2a2a" stroke="#2a2a2a" stroke-width="0.08" textLength="17.37" lengthAdjust="spacingAndGlyphs">H179R</text>
<text transform="translate(215.30,293.60) rotate(90)" font-size="6.0" text-anchor="end" fill="#2a2a2a" stroke="#2a2a2a" stroke-width="0.08" textLength="6.82" lengthAdjust="spacingAndGlyphs">(2)</text>
<text transform="translate(232.00,284.20) rotate(90)" font-size="6.0" text-anchor="end" fill="#2a2a2a" stroke="#2a2a2a" stroke-width="0.08" textLength="17.68" lengthAdjust="spacingAndGlyphs">H179Q</text>
<text transform="translate(232.00,293.60) rotate(90)" font-size="6.0" text-anchor="end" fill="#2a2a2a" stroke="#2a2a2a" stroke-width="0.08" textLength="6.82" lengthAdjust="spacingAndGlyphs">(1)</text>
<text transform="translate(246.70,284.20) rotate(90)" font-size="6.0" text-anchor="end" fill="#2a2a2a" stroke="#2a2a2a" stroke-width="0.08" textLength="17.37" lengthAdjust="spacingAndGlyphs">H193R</text>
<text transform="translate(246.70,293.60) rotate(90)" font-size="6.0" text-anchor="end" fill="#2a2a2a" stroke="#2a2a2a" stroke-width="0.08" textLength="6.82" lengthAdjust="spacingAndGlyphs">(1)</text>
<text transform="translate(262.00,284.20) rotate(90)" font-size="6.0" text-anchor="end" fill="#2a2a2a" stroke="#2a2a2a" stroke-width="0.08" textLength="17.68" lengthAdjust="spacingAndGlyphs">V216M</text>
<text transform="translate(262.00,293.60) rotate(90)" font-size="6.0" text-anchor="end" fill="#2a2a2a" stroke="#2a2a2a" stroke-width="0.08" textLength="6.82" lengthAdjust="spacingAndGlyphs">(1)</text>
<text transform="translate(279.20,284.20) rotate(90)" font-size="6.0" text-anchor="end" fill="#2a2a2a" stroke="#2a2a2a" stroke-width="0.08" textLength="17.06" lengthAdjust="spacingAndGlyphs">Y220C</text>
<text transform="translate(279.20,293.60) rotate(90)" font-size="6.0" text-anchor="end" fill="#2a2a2a" stroke="#2a2a2a" stroke-width="0.08" textLength="6.82" lengthAdjust="spacingAndGlyphs">(2)</text>
<text transform="translate(293.60,284.20) rotate(90)" font-size="6.0" text-anchor="end" fill="#2a2a2a" stroke="#2a2a2a" stroke-width="0.08" textLength="11.17" lengthAdjust="spacingAndGlyphs">e6-2</text>
<text transform="translate(293.60,293.60) rotate(90)" font-size="6.0" text-anchor="end" fill="#2a2a2a" stroke="#2a2a2a" stroke-width="0.08" textLength="6.82" lengthAdjust="spacingAndGlyphs">(3)</text>
<text transform="translate(306.70,263.60) rotate(90)" font-size="6.0" text-anchor="start" fill="#2a2a2a" stroke="#2a2a2a" stroke-width="0.08" textLength="17.06" lengthAdjust="spacingAndGlyphs">Y234C</text>
<text transform="translate(306.70,293.60) rotate(90)" font-size="6.0" text-anchor="end" fill="#2a2a2a" stroke="#2a2a2a" stroke-width="0.08" textLength="6.82" lengthAdjust="spacingAndGlyphs">(2)</text>
<text transform="translate(321.10,263.60) rotate(90)" font-size="6.0" text-anchor="start" fill="#2a2a2a" stroke="#2a2a2a" stroke-width="0.08" textLength="17.06" lengthAdjust="spacingAndGlyphs">Y236C</text>
<text transform="translate(321.10,293.60) rotate(90)" font-size="6.0" text-anchor="end" fill="#2a2a2a" stroke="#2a2a2a" stroke-width="0.08" textLength="6.82" lengthAdjust="spacingAndGlyphs">(1)</text>
<text transform="translate(336.50,263.60) rotate(90)" font-size="6.0" text-anchor="start" fill="#2a2a2a" stroke="#2a2a2a" stroke-width="0.08" textLength="16.75" lengthAdjust="spacingAndGlyphs">C238F</text>
<text transform="translate(336.50,293.60) rotate(90)" font-size="6.0" text-anchor="end" fill="#2a2a2a" stroke="#2a2a2a" stroke-width="0.08" textLength="6.82" lengthAdjust="spacingAndGlyphs">(1)</text>
<text transform="translate(352.20,263.60) rotate(90)" font-size="6.0" text-anchor="start" fill="#2a2a2a" stroke="#2a2a2a" stroke-width="0.08" textLength="17.37" lengthAdjust="spacingAndGlyphs">G244V</text>
<text transform="translate(352.20,293.60) rotate(90)" font-size="6.0" text-anchor="end" fill="#2a2a2a" stroke="#2a2a2a" stroke-width="0.08" textLength="6.82" lengthAdjust="spacingAndGlyphs">(1)</text>
<text transform="translate(369.00,263.60) rotate(90)" font-size="6.0" text-anchor="start" fill="#2a2a2a" stroke="#2a2a2a" stroke-width="0.08" textLength="17.68" lengthAdjust="spacingAndGlyphs">M246K</text>
<text transform="translate(369.00,293.60) rotate(90)" font-size="6.0" text-anchor="end" fill="#2a2a2a" stroke="#2a2a2a" stroke-width="0.08" textLength="6.82" lengthAdjust="spacingAndGlyphs">(1)</text>
<text transform="translate(388.60,263.60) rotate(90)" font-size="6.0" text-anchor="start" fill="#2a2a2a" stroke="#2a2a2a" stroke-width="0.08" textLength="18.61" lengthAdjust="spacingAndGlyphs">R248W</text>
<text transform="translate(388.60,293.60) rotate(90)" font-size="6.0" text-anchor="end" fill="#2a2a2a" stroke="#2a2a2a" stroke-width="0.08" textLength="6.82" lengthAdjust="spacingAndGlyphs">(2)</text>
<text transform="translate(412.30,263.60) rotate(90)" font-size="6.0" text-anchor="start" fill="#2a2a2a" stroke="#2a2a2a" stroke-width="0.08" textLength="17.68" lengthAdjust="spacingAndGlyphs">R248Q</text>
<text transform="translate(412.30,293.60) rotate(90)" font-size="6.0" text-anchor="end" fill="#2a2a2a" stroke="#2a2a2a" stroke-width="0.08" textLength="6.82" lengthAdjust="spacingAndGlyphs">(2)</text>
<text transform="translate(433.60,263.60) rotate(90)" font-size="6.0" text-anchor="start" fill="#2a2a2a" stroke="#2a2a2a" stroke-width="0.08" textLength="16.75" lengthAdjust="spacingAndGlyphs">L257Q</text>
<text transform="translate(433.60,293.60) rotate(90)" font-size="6.0" text-anchor="end" fill="#2a2a2a" stroke="#2a2a2a" stroke-width="0.08" textLength="6.82" lengthAdjust="spacingAndGlyphs">(1)</text>
<text transform="translate(461.90,263.60) rotate(90)" font-size="6.0" text-anchor="start" fill="#2a2a2a" stroke="#2a2a2a" stroke-width="0.08" textLength="18.61" lengthAdjust="spacingAndGlyphs">R282W</text>
<text transform="translate(461.90,293.60) rotate(90)" font-size="6.0" text-anchor="end" fill="#2a2a2a" stroke="#2a2a2a" stroke-width="0.08" textLength="6.82" lengthAdjust="spacingAndGlyphs">(1)</text>
<text transform="translate(483.90,263.60) rotate(90)" font-size="6.0" text-anchor="start" fill="#2a2a2a" stroke="#2a2a2a" stroke-width="0.08" textLength="14.27" lengthAdjust="spacingAndGlyphs">e10-1</text>
<text transform="translate(483.90,293.60) rotate(90)" font-size="6.0" text-anchor="end" fill="#2a2a2a" stroke="#2a2a2a" stroke-width="0.08" textLength="6.82" lengthAdjust="spacingAndGlyphs">(2)</text>
<text x="30.50" y="255.80" font-size="6.4" text-anchor="middle" fill="#1e1e1e" textLength="6.30" lengthAdjust="spacingAndGlyphs">n.t</text>
<text x="30.80" y="263.60" font-size="6.4" text-anchor="middle" fill="#1e1e1e" textLength="9.13" lengthAdjust="spacingAndGlyphs">pos</text>
<text x="30.80" y="273.80" font-size="6.4" text-anchor="middle" fill="#1e1e1e" textLength="7.87" lengthAdjust="spacingAndGlyphs">a.a</text>
<text x="30.80" y="281.20" font-size="6.4" text-anchor="middle" fill="#1e1e1e" textLength="9.13" lengthAdjust="spacingAndGlyphs">pos</text>
<text x="36.40" y="292.30" font-size="6.4" text-anchor="middle" fill="#1e1e1e" textLength="45.20" lengthAdjust="spacingAndGlyphs">(# of occurrence)</text>
<text x="7.50" y="319.40" font-size="11.8" text-anchor="start" fill="#0c0c0c" font-weight="bold" textLength="6.70" lengthAdjust="spacingAndGlyphs">F</text>
<line x1="48.35" y1="321.00" x2="48.35" y2="423.00" stroke="#151515" stroke-width="1.4" />
<line x1="45.35" y1="324.40" x2="48.35" y2="324.40" stroke="#151515" stroke-width="1.1" />
<text x="41.90" y="327.35" font-size="9.0" text-anchor="end" fill="#1e1e1e" stroke="#1e1e1e" stroke-width="0.12" textLength="8.86" lengthAdjust="spacingAndGlyphs">10</text>
<line x1="45.35" y1="343.98" x2="48.35" y2="343.98" stroke="#151515" stroke-width="1.1" />
<text x="41.90" y="346.93" font-size="9.0" text-anchor="end" fill="#1e1e1e" stroke="#1e1e1e" stroke-width="0.12" textLength="4.43" lengthAdjust="spacingAndGlyphs">8</text>
<line x1="45.35" y1="363.56" x2="48.35" y2="363.56" stroke="#151515" stroke-width="1.1" />
<text x="41.90" y="366.51" font-size="9.0" text-anchor="end" fill="#1e1e1e" stroke="#1e1e1e" stroke-width="0.12" textLength="4.43" lengthAdjust="spacingAndGlyphs">6</text>
<line x1="45.35" y1="383.14" x2="48.35" y2="383.14" stroke="#151515" stroke-width="1.1" />
<text x="41.90" y="386.09" font-size="9.0" text-anchor="end" fill="#1e1e1e" stroke="#1e1e1e" stroke-width="0.12" textLength="4.43" lengthAdjust="spacingAndGlyphs">4</text>
<line x1="45.35" y1="402.72" x2="48.35" y2="402.72" stroke="#151515" stroke-width="1.1" />
<text x="41.90" y="405.67" font-size="9.0" text-anchor="end" fill="#1e1e1e" stroke="#1e1e1e" stroke-width="0.12" textLength="4.43" lengthAdjust="spacingAndGlyphs">2</text>
<line x1="45.35" y1="422.30" x2="48.35" y2="422.30" stroke="#151515" stroke-width="1.1" />
<text x="41.90" y="425.25" font-size="9.0" text-anchor="end" fill="#1e1e1e" stroke="#1e1e1e" stroke-width="0.12" textLength="4.43" lengthAdjust="spacingAndGlyphs">0</text>
<line x1="45.50" y1="422.30" x2="167.50" y2="422.30" stroke="#151515" stroke-width="1.4" />
<line x1="68.00" y1="422.30" x2="68.00" y2="425.50" stroke="#151515" stroke-width="1.1" />
<line x1="107.80" y1="422.30" x2="107.80" y2="425.50" stroke="#151515" stroke-width="1.1" />
<line x1="147.80" y1="422.30" x2="147.80" y2="425.50" stroke="#151515" stroke-width="1.1" />
<rect x="55.00" y="343.48" width="11.60" height="78.82" fill="#ad0d33" stroke="#8c0a29" stroke-width="0.5"/>
<rect x="70.00" y="343.48" width="11.40" height="78.82" fill="#2d4b82" stroke="#22396a" stroke-width="0.5"/>
<rect x="94.80" y="392.43" width="11.60" height="29.87" fill="#ad0d33" stroke="#8c0a29" stroke-width="0.5"/>
<rect x="109.80" y="382.64" width="11.40" height="39.66" fill="#2d4b82" stroke="#22396a" stroke-width="0.5"/>
<rect x="134.80" y="392.43" width="11.60" height="29.87" fill="#ad0d33" stroke="#8c0a29" stroke-width="0.5"/>
<rect x="149.80" y="412.01" width="11.40" height="10.29" fill="#2d4b82" stroke="#22396a" stroke-width="0.5"/>
<text x="67.80" y="435.40" font-size="9.2" text-anchor="middle" fill="#1e1e1e" stroke="#1e1e1e" stroke-width="0.12" textLength="26.00" lengthAdjust="spacingAndGlyphs">Severe</text>
<text x="108.30" y="435.40" font-size="9.2" text-anchor="middle" fill="#1e1e1e" stroke="#1e1e1e" stroke-width="0.12" textLength="18.00" lengthAdjust="spacingAndGlyphs">Mild/</text>
<text x="108.20" y="444.90" font-size="9.2" text-anchor="middle" fill="#1e1e1e" stroke="#1e1e1e" stroke-width="0.12" textLength="34.20" lengthAdjust="spacingAndGlyphs">Moderate</text>
<text x="147.90" y="435.40" font-size="9.2" text-anchor="middle" fill="#1e1e1e" stroke="#1e1e1e" stroke-width="0.12" textLength="18.80" lengthAdjust="spacingAndGlyphs">None</text>
<text x="108.20" y="458.60" font-size="10.8" text-anchor="middle" fill="#1e1e1e" stroke="#1e1e1e" stroke-width="0.12" textLength="47.00" lengthAdjust="spacingAndGlyphs">Neutropenia</text>
<text transform="translate(28.00,372.00) rotate(-90)" font-size="10.4" text-anchor="middle" fill="#1e1e1e" stroke="#1e1e1e" stroke-width="0.12" textLength="75.00" lengthAdjust="spacingAndGlyphs">Number of patients</text>
<rect x="107.80" y="322.80" width="11.70" height="7.80" fill="#ad0d33"/>
<rect x="107.80" y="334.60" width="11.70" height="7.80" fill="#2d4b82"/>
<text transform="translate(122.60,329.50) translate(0.00,0)" font-size="9.2" fill="#1e1e1e" stroke="#1e1e1e" stroke-width="0.12" textLength="10.11" lengthAdjust="spacingAndGlyphs">No</text>
<text transform="translate(122.60,329.50) translate(12.30,0) skewX(-7)" font-size="9.2" fill="#1e1e1e" font-style="italic" stroke="#1e1e1e" stroke-width="0.12" textLength="18.90" lengthAdjust="spacingAndGlyphs">TP53</text>
<text transform="translate(123.20,341.30) translate(0.00,0) skewX(-7)" font-size="9.2" fill="#1e1e1e" font-style="italic" stroke="#1e1e1e" stroke-width="0.12" textLength="18.70" lengthAdjust="spacingAndGlyphs">TP53</text>
<text x="183.20" y="320.00" font-size="11.8" text-anchor="start" fill="#0c0c0c" font-weight="bold" textLength="8.54" lengthAdjust="spacingAndGlyphs">G</text>
<line x1="225.25" y1="320.00" x2="225.25" y2="423.00" stroke="#151515" stroke-width="1.4" />
<line x1="222.25" y1="322.70" x2="225.25" y2="322.70" stroke="#151515" stroke-width="1.1" />
<text x="218.90" y="325.25" font-size="9.0" text-anchor="end" fill="#1e1e1e" stroke="#1e1e1e" stroke-width="0.12" textLength="8.86" lengthAdjust="spacingAndGlyphs">15</text>
<line x1="222.25" y1="355.90" x2="225.25" y2="355.90" stroke="#151515" stroke-width="1.1" />
<text x="218.90" y="358.45" font-size="9.0" text-anchor="end" fill="#1e1e1e" stroke="#1e1e1e" stroke-width="0.12" textLength="8.86" lengthAdjust="spacingAndGlyphs">10</text>
<line x1="222.25" y1="389.10" x2="225.25" y2="389.10" stroke="#151515" stroke-width="1.1" />
<text x="218.90" y="391.65" font-size="9.0" text-anchor="end" fill="#1e1e1e" stroke="#1e1e1e" stroke-width="0.12" textLength="4.43" lengthAdjust="spacingAndGlyphs">5</text>
<line x1="222.25" y1="422.30" x2="225.25" y2="422.30" stroke="#151515" stroke-width="1.1" />
<text x="218.90" y="424.85" font-size="9.0" text-anchor="end" fill="#1e1e1e" stroke="#1e1e1e" stroke-width="0.12" textLength="4.43" lengthAdjust="spacingAndGlyphs">0</text>
<line x1="222.60" y1="422.30" x2="305.60" y2="422.30" stroke="#151515" stroke-width="1.4" />
<line x1="245.50" y1="422.30" x2="245.50" y2="425.50" stroke="#151515" stroke-width="1.1" />
<line x1="285.90" y1="422.30" x2="285.90" y2="425.50" stroke="#151515" stroke-width="1.1" />
<rect x="232.00" y="395.14" width="11.80" height="27.16" fill="#ad0d33" stroke="#8c0a29" stroke-width="0.5"/>
<rect x="247.20" y="401.78" width="11.50" height="20.52" fill="#2d4b82" stroke="#22396a" stroke-width="0.5"/>
<rect x="272.40" y="355.30" width="11.80" height="67.00" fill="#ad0d33" stroke="#8c0a29" stroke-width="0.5"/>
<rect x="287.60" y="355.30" width="11.50" height="67.00" fill="#2d4b82" stroke="#22396a" stroke-width="0.5"/>
<text x="245.80" y="435.00" font-size="9.2" text-anchor="middle" fill="#1e1e1e" stroke="#1e1e1e" stroke-width="0.12" textLength="14.20" lengthAdjust="spacingAndGlyphs">Yes</text>
<text x="285.70" y="435.00" font-size="9.2" text-anchor="middle" fill="#1e1e1e" stroke="#1e1e1e" stroke-width="0.12" textLength="10.40" lengthAdjust="spacingAndGlyphs">No</text>
<text x="265.40" y="449.00" font-size="10.8" text-anchor="middle" fill="#1e1e1e" stroke="#1e1e1e" stroke-width="0.12" textLength="29.50" lengthAdjust="spacingAndGlyphs">Anemia</text>
<text transform="translate(204.90,371.50) rotate(-90)" font-size="10.4" text-anchor="middle" fill="#1e1e1e" stroke="#1e1e1e" stroke-width="0.12" textLength="74.50" lengthAdjust="spacingAndGlyphs">Number of patients</text>
<text x="321.60" y="319.50" font-size="11.8" text-anchor="start" fill="#0c0c0c" font-weight="bold" textLength="7.93" lengthAdjust="spacingAndGlyphs">H</text>
<line x1="361.85" y1="319.60" x2="361.85" y2="423.05" stroke="#151515" stroke-width="1.7" />
<line x1="358.85" y1="322.50" x2="361.85" y2="322.50" stroke="#151515" stroke-width="1.1" />
<text x="356.30" y="325.05" font-size="9.0" text-anchor="end" fill="#1e1e1e" stroke="#1e1e1e" stroke-width="0.12" textLength="8.86" lengthAdjust="spacingAndGlyphs">10</text>
<line x1="358.85" y1="342.44" x2="361.85" y2="342.44" stroke="#151515" stroke-width="1.1" />
<text x="356.30" y="344.99" font-size="9.0" text-anchor="end" fill="#1e1e1e" stroke="#1e1e1e" stroke-width="0.12" textLength="4.43" lengthAdjust="spacingAndGlyphs">8</text>
<line x1="358.85" y1="362.38" x2="361.85" y2="362.38" stroke="#151515" stroke-width="1.1" />
<text x="356.30" y="364.93" font-size="9.0" text-anchor="end" fill="#1e1e1e" stroke="#1e1e1e" stroke-width="0.12" textLength="4.43" lengthAdjust="spacingAndGlyphs">6</text>
<line x1="358.85" y1="382.32" x2="361.85" y2="382.32" stroke="#151515" stroke-width="1.1" />
<text x="356.30" y="384.87" font-size="9.0" text-anchor="end" fill="#1e1e1e" stroke="#1e1e1e" stroke-width="0.12" textLength="4.43" lengthAdjust="spacingAndGlyphs">4</text>
<line x1="358.85" y1="402.26" x2="361.85" y2="402.26" stroke="#151515" stroke-width="1.1" />
<text x="356.30" y="404.81" font-size="9.0" text-anchor="end" fill="#1e1e1e" stroke="#1e1e1e" stroke-width="0.12" textLength="4.43" lengthAdjust="spacingAndGlyphs">2</text>
<line x1="358.85" y1="422.20" x2="361.85" y2="422.20" stroke="#151515" stroke-width="1.1" />
<text x="356.30" y="424.75" font-size="9.0" text-anchor="end" fill="#1e1e1e" stroke="#1e1e1e" stroke-width="0.12" textLength="4.43" lengthAdjust="spacingAndGlyphs">0</text>
<line x1="359.20" y1="422.20" x2="442.60" y2="422.20" stroke="#151515" stroke-width="1.4" />
<line x1="382.10" y1="422.20" x2="382.10" y2="425.40" stroke="#151515" stroke-width="1.1" />
<line x1="422.30" y1="422.20" x2="422.30" y2="425.40" stroke="#151515" stroke-width="1.1" />
<rect x="369.10" y="371.95" width="11.50" height="50.25" fill="#ad0d33" stroke="#8c0a29" stroke-width="0.5"/>
<rect x="384.00" y="371.95" width="11.60" height="50.25" fill="#2d4b82" stroke="#22396a" stroke-width="0.5"/>
<rect x="409.30" y="332.07" width="11.50" height="90.13" fill="#ad0d33" stroke="#8c0a29" stroke-width="0.5"/>
<rect x="424.20" y="342.04" width="11.60" height="80.16" fill="#2d4b82" stroke="#22396a" stroke-width="0.5"/>
<text x="382.00" y="435.20" font-size="9.2" text-anchor="middle" fill="#1e1e1e" stroke="#1e1e1e" stroke-width="0.12" textLength="13.90" lengthAdjust="spacingAndGlyphs">Yes</text>
<text x="422.80" y="435.20" font-size="9.2" text-anchor="middle" fill="#1e1e1e" stroke="#1e1e1e" stroke-width="0.12" textLength="10.10" lengthAdjust="spacingAndGlyphs">No</text>
<text x="402.70" y="448.80" font-size="10.8" text-anchor="middle" fill="#1e1e1e" stroke="#1e1e1e" stroke-width="0.12" textLength="72.60" lengthAdjust="spacingAndGlyphs">Thrombocytopenia</text>
<text transform="translate(342.40,371.30) rotate(-90)" font-size="10.4" text-anchor="middle" fill="#1e1e1e" stroke="#1e1e1e" stroke-width="0.12" textLength="73.90" lengthAdjust="spacingAndGlyphs">Number of patients</text>
<rect x="0" y="0" width="1.5" height="468" fill="#000"/>
<rect x="0" y="0" width="520" height="1.3" fill="#000"/>
<rect x="518.4" y="0" width="1.6" height="468" fill="#000"/>
<rect x="0" y="466.4" width="520" height="1.6" fill="#000"/>
</svg>
</body></html>
